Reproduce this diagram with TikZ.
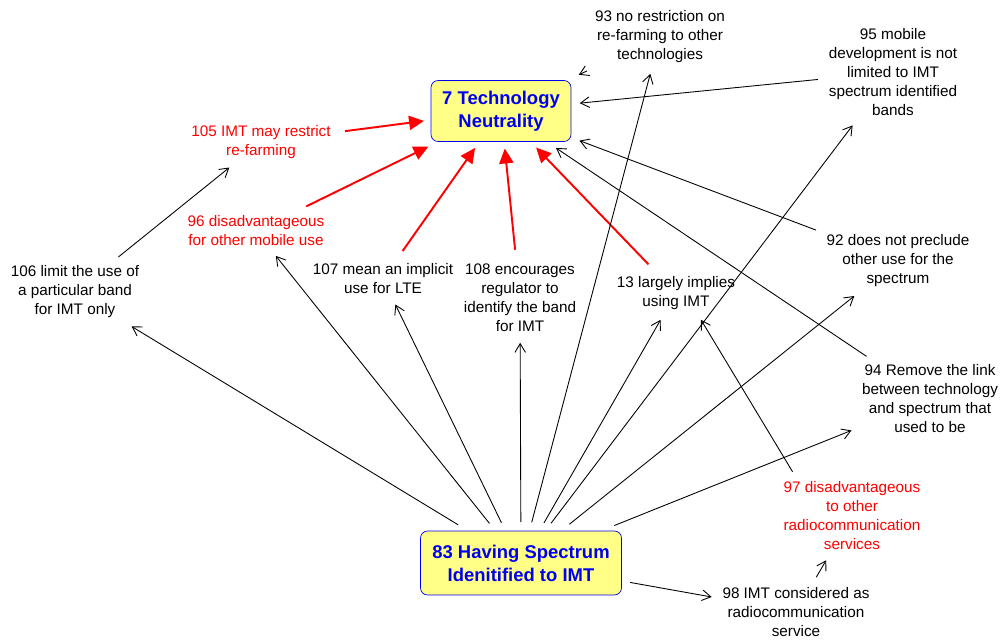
\documentclass[tikz,border=0pt]{standalone}
\usepackage{fontspec}
\setmainfont{Liberation Sans}
\usepackage{xcolor}
\usepackage{tikz}
\usetikzlibrary{arrows.meta}

\definecolor{boxfill}{HTML}{FFFF88}
\definecolor{boxblue}{HTML}{0000F0}

\begin{document}
\begin{tikzpicture}[x=0.02cm, y=-0.02cm,
   idea/.style={align=center, inner sep=3pt, font=\fontsize{8.7}{10.8}\selectfont},
   redidea/.style={idea, text=red},
   keybox/.style={draw=boxblue, fill=boxfill, rounded corners=4pt, text=boxblue, align=center,
      inner sep=2pt, outer sep=2pt, font=\fontsize{10.5}{13}\selectfont\bfseries},
   link/.style={line width=0.5pt, -{Straight Barb[length=5pt,width=6pt]}, shorten >=3pt, shorten <=3pt},
   redlink/.style={draw=red, line width=1.1pt, -{Triangle[length=8.5pt,width=8pt]}, shorten >=2pt, shorten <=5pt}]
   \useasboundingbox (0,0) rectangle (1002,641);

   \node [keybox, minimum width=2.8cm, minimum height=1.22cm] (n7) at (501,111) {7 Technology\\Neutrality};
   \node [keybox, minimum width=4.02cm, minimum height=1.28cm] (n83) at (521,563) {83 Having Spectrum\\Idenitified to IMT};

   \node [idea] (n93) at (660,37) {93 no restriction on\\re-farming to other\\technologies};
   \node [idea] (n95) at (893,72) {95 mobile\\development is not\\limited to IMT\\spectrum identified\\bands};
   \node [redidea] (n105) at (261,142) {105 IMT may restrict\\re-farming};
   \node [redidea] (n96) at (256,231) {96 disadvantageous\\for other mobile use};
   \node [idea] (n106) at (75,292) {106 limit the use of\\a particular band\\for IMT only};
   \node [idea] (n107) at (383,279) {107 mean an implicit\\use for LTE};
   \node [idea] (n108) at (520,298) {108 encourages\\regulator to\\identify the band\\for IMT};
   \node [idea] (n13) at (676,293) {13 largely implies\\using IMT};
   \node [idea] (n92) at (898,261) {92 does not preclude\\other use for the\\spectrum};
   \node [idea] (n94) at (930,399) {94 Remove the link\\between technology\\and spectrum that\\used to be};
   \node [redidea] (n97) at (852,516) {97 disadvantageous\\to other\\radiocommunication\\services};
   \node [idea] (n98) at (796,612) {98 IMT considered as\\radiocommunication\\service};

   % into 7
   \path (n105) edge [redlink] (n7) ;
   \path (n96) edge [redlink] (n7) ;
   \path (n107) edge [redlink] (n7) ;
   \path (n108) edge [redlink] (n7) ;
   \path (n13) edge [redlink] (n7) ;
   \path (n93) edge [link] (n7) ;
   \path (n95) edge [link] (n7) ;
   \path (n92) edge [link] (n7) ;
   \path (n94) edge [link] (n7) ;

   % out of 83
   \path (n83) edge [link] (n106) ;
   \path (n83) edge [link] (n96) ;
   \path (n83) edge [link] (n107) ;
   \path (n83) edge [link] (n108) ;
   \path (n83) edge [link] (n93) ;
   \path (n83) edge [link] (n13) ;
   \path (n83) edge [link] (n95) ;
   \path (n83) edge [link] (n92) ;
   \path (n83) edge [link] (n94) ;
   \path (n83) edge [link] (n98) ;

   % others
   \path (n106) edge [link] (n105) ;
   \path (n97.145) edge [link] (n13.-45) ;
   \path (n98) edge [link] (n97) ;
\end{tikzpicture}
\end{document}
